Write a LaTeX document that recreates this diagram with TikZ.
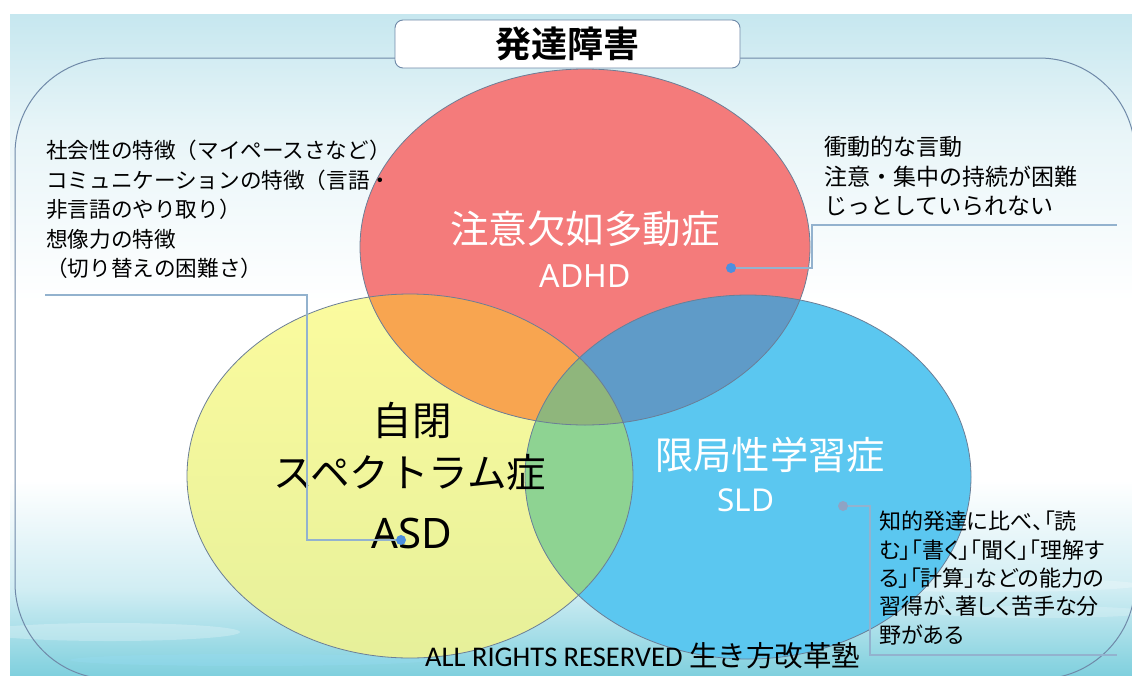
\documentclass[tikz,border=0pt]{standalone}
\usepackage{fontspec}
\newfontfamily\jp{Noto Sans CJK JP}
\newfontfamily\jpb{Noto Sans CJK JP Bold}
\newfontfamily\jpp[RawFeature=+palt]{Noto Sans CJK JP}
\newfontfamily\latfnt{Noto Sans}
\newfontfamily\calfnt{Carlito}
\definecolor{redc}{HTML}{F47B7B}
\definecolor{yelc}{HTML}{F4F7A0}
\definecolor{yeltop}{HTML}{FBFB9E}
\definecolor{yelbot}{HTML}{E6F09A}
\definecolor{bluc}{HTML}{5BC7F0}
\definecolor{orac}{HTML}{F8A550}
\definecolor{grnc}{HTML}{8ED392}
\definecolor{stlc}{HTML}{5F9BC8}
\definecolor{olvc}{HTML}{8FB67C}
\definecolor{edgec}{HTML}{6B7E96}
\definecolor{connc}{HTML}{93B2CE}
\definecolor{framec}{HTML}{6F89A8}
\definecolor{bgtop}{HTML}{C6E7EF}
\definecolor{bgmid}{HTML}{E8F5F8}
\definecolor{bglow}{HTML}{D0EDF3}
\definecolor{bgbot}{HTML}{80D0DE}
\definecolor{dotc}{HTML}{4C8FE0}
\definecolor{dotg}{HTML}{8FA3C4}
\tikzset{
  ell/.style={draw=edgec, line width=0.8pt},
  conn/.style={draw=connc, line width=1.1pt},
  dotn/.style={circle, fill=dotc, inner sep=0pt, minimum size=10pt},
  titlebox/.style={draw=framec, fill=white, rounded corners=8pt, line width=0.9pt,
    minimum width=345pt, minimum height=48pt, inner sep=0pt,
    font=\jpb\fontsize{36}{40}\selectfont},
  lbl/.style={inner sep=0pt, align=center},
  note/.style={inner sep=0pt, align=left, anchor=north west}
}
\begin{document}
\begin{tikzpicture}[x=1pt,y=-1pt]
\useasboundingbox (0,0) rectangle (1132,675);
\begin{scope}
\clip (0,0) rectangle (1132,675);
% background
\fill[white] (0,0) rectangle (1132,675);
\shade[top color=bgtop, bottom color=bgmid] (10,14) rectangle (1132,131);
\shade[top color=bgmid, bottom color=white] (10,130) rectangle (1132,301);
\fill[white] (10,300) rectangle (1132,481);
\shade[top color=white, bottom color=bglow] (10,480) rectangle (1132,591);
\shade[top color=bglow, bottom color=bgbot] (10,590) rectangle (1132,675);
% clouds / streaks
\fill[white, opacity=0.25] (110,632) ellipse [x radius=130, y radius=9];
\fill[white, opacity=0.25] (990,585) ellipse [x radius=150, y radius=7];
\fill[white, opacity=0.2] (1040,612) ellipse [x radius=110, y radius=6];
\fill[cyan!40!white, opacity=0.25] (250,660) ellipse [x radius=180, y radius=6];
% frame
\draw[framec, line width=1pt, rounded corners=96pt] (15,58) rectangle (1135,679);
% ellipses
\shade[top color=yeltop, bottom color=yelbot] (410,476) ellipse [x radius=223, y radius=182];
\fill[redc] (585,247) ellipse [x radius=225, y radius=178];
\fill[bluc] (748,477) ellipse [x radius=223, y radius=182];
\begin{scope}
\clip (410,476) ellipse [x radius=223, y radius=182];
\fill[orac] (585,247) ellipse [x radius=225, y radius=178];
\fill[grnc] (748,477) ellipse [x radius=223, y radius=182];
\end{scope}
\begin{scope}
\clip (585,247) ellipse [x radius=225, y radius=178];
\fill[stlc] (748,477) ellipse [x radius=223, y radius=182];
\clip (410,476) ellipse [x radius=223, y radius=182];
\fill[olvc] (748,477) ellipse [x radius=223, y radius=182];
\end{scope}
\draw[ell] (410,476) ellipse [x radius=223, y radius=182];
\draw[ell] (585,247) ellipse [x radius=225, y radius=178];
\draw[ell] (748,477) ellipse [x radius=223, y radius=182];
% title
\node[titlebox] (title) at (567.5,44) {発達障害};
% labels
\node[lbl, text=white, font=\jp\fontsize{38.5}{44}\selectfont] (adhdj) at (585,229) {注意欠如多動症};
\node[lbl, text=white, font=\latfnt\fontsize{32}{36}\selectfont] (adhd) at (585,276) {ADHD};
\node[lbl, font=\jp\fontsize{39.5}{44}\selectfont] (asdj1) at (412,420) {自閉};
\node[lbl, font=\jp\fontsize{39.5}{44}\selectfont] (asdj2) at (410,473) {スペクトラム症};
\node[lbl, font=\latfnt\fontsize{42}{46}\selectfont] (asd) at (412,533) {ASD};
\node[lbl, text=white, font=\jp\fontsize{38.3}{44}\selectfont] (sldj) at (770,455) {限局性学習症};
\node[lbl, text=white, font=\latfnt\fontsize{31.5}{36}\selectfont] (sld) at (746,500) {SLD};
% dots
\node[dotn] (asddot) at (401,540) {};
\node[dotn] (adhddot) at (731,268) {};
\node[dotn, fill=dotg] (slddot) at (843,506) {};
% connectors
\coordinate (asdA) at (307,540);
\coordinate (asdB) at (307,295);
\coordinate (asdC) at (45,295);
\coordinate (adhdA) at (812,268);
\coordinate (adhdB) at (812,225);
\coordinate (adhdC) at (1117,225);
\coordinate (sldA) at (870,506);
\coordinate (sldB) at (870,655);
\coordinate (sldC) at (1117,655);
\draw[conn] (asddot.west) -- (asdA) -- (asdB) -- (asdC);
\draw[conn] (adhddot.east) -- (adhdA) -- (adhdB) -- (adhdC);
\draw[conn] (slddot.east) -- (sldA) -- (sldB) -- (sldC);
% notes
\node[note, font=\jp\fontsize{21.6}{29.5}\selectfont] (asdnote) at (46,140)
  {社会性の特徴（マイペースさなど）\\コミュニケーションの特徴（言語・\\非言語のやり取り）\\想像力の特徴\\（切り替えの困難さ）};
\node[note, font=\jp\fontsize{23}{29.5}\selectfont] (adhdnote) at (824,136)
  {衝動的な言動\\注意・集中の持続が困難\\じっとしていられない};
\node[note, font=\jpp\fontsize{22}{28.3}\selectfont] (sldnote) at (879,511)
  {知的発達に比べ、「読\\む」「書く」「聞く」「理解す\\る」「計算」などの能力の\\習得が、著しく苦手な分\\野がある};
% footer
\node[inner sep=0pt, anchor=base west] (footer) at (425,666)
  {\calfnt\fontsize{28.5}{32}\selectfont ALL RIGHTS RESERVED {\jp 生き方改革塾}};
\end{scope}
\end{tikzpicture}
\end{document}
